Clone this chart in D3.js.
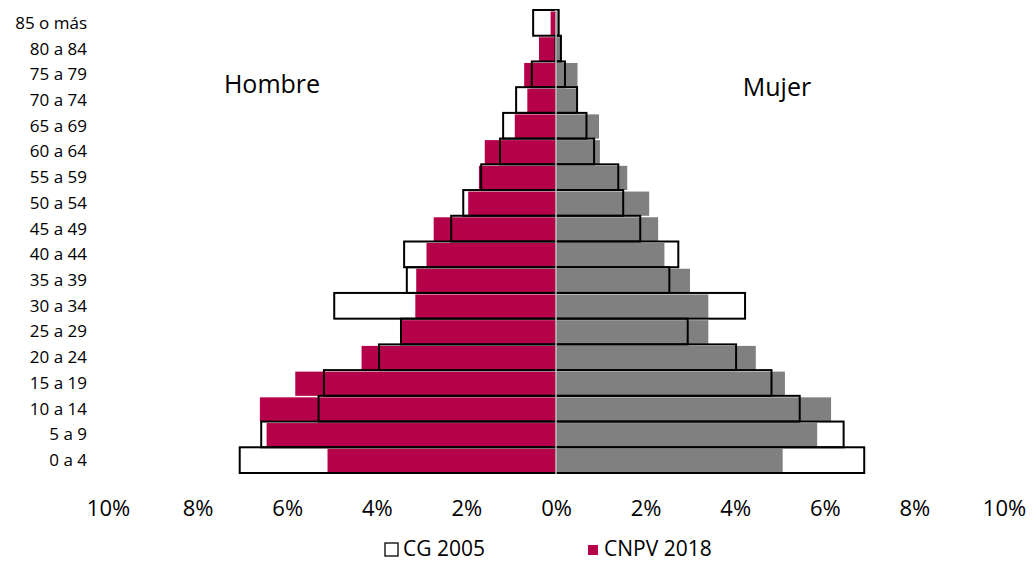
<!DOCTYPE html>
<html><head><meta charset="utf-8">
<script src="https://cdn.jsdelivr.net/npm/d3@7"></script>
<style>body{margin:0;background:#fff}svg{display:block}text{font-family:"Open Sans",sans-serif;fill:#000}</style>
</head><body><svg id="c" width="1034" height="562"></svg>
<script>
const categories = ["0 a 4","5 a 9","10 a 14","15 a 19","20 a 24","25 a 29","30 a 34","35 a 39","40 a 44","45 a 49","50 a 54","55 a 59","60 a 64","65 a 69","70 a 74","75 a 79","80 a 84","85 o más"];
const cg2005Hombre = [7.06,6.58,5.30,5.18,3.95,3.46,4.95,3.33,3.39,2.34,2.07,1.67,1.25,1.18,0.89,0.54,0.01,0.51];
const cg2005Mujer  = [6.88,6.42,5.44,4.81,4.02,2.94,4.22,2.53,2.73,1.88,1.50,1.39,0.85,0.68,0.47,0.20,0.11,0.06];
const cnpv2018Hombre = [5.10,6.46,6.61,5.82,4.34,3.44,3.14,3.12,2.89,2.73,1.96,1.72,1.59,0.92,0.64,0.71,0.38,0.12];
const cnpv2018Mujer  = [5.06,5.83,6.14,5.11,4.46,3.40,3.40,2.99,2.42,2.28,2.08,1.59,0.98,0.96,0.46,0.48,0.13,0.04];
const tickValues = [-10,-8,-6,-4,-2,0,2,4,6,8,10];
const seriesNames = ["CG 2005","CNPV 2018"];

const svg = d3.select("#c");
const x = d3.scaleLinear().domain([-10,10]).range([108,1004]);
const y = d3.scaleBand().domain(categories.slice().reverse()).range([10,473]).padding(0);
const rows = categories.map((c,i)=>({c, cgH:cg2005Hombre[i], cgM:cg2005Mujer[i], nH:cnpv2018Hombre[i], nM:cnpv2018Mujer[i]}));

// CNPV 2018 filled bars
svg.append("g").selectAll("rect").data(rows).join("rect")
  .attr("x", d=>x(-d.nH)).attr("y", d=>y(d.c)+1.5)
  .attr("width", d=>x(0)-x(-d.nH)).attr("height", y.bandwidth()-1.5)
  .attr("fill","#b5004a");
svg.append("g").selectAll("rect").data(rows).join("rect")
  .attr("x", x(0)).attr("y", d=>y(d.c)+1.5)
  .attr("width", d=>x(d.nM)-x(0)).attr("height", y.bandwidth()-1.5)
  .attr("fill","#808080");

// CG 2005 outline bars
svg.append("g").selectAll("rect").data(rows).join("rect")
  .attr("x", d=>x(-d.cgH)).attr("y", d=>y(d.c))
  .attr("width", d=>x(d.cgM)-x(-d.cgH)).attr("height", y.bandwidth())
  .attr("fill","none").attr("stroke","#000").attr("stroke-width",2);

// center line
svg.append("line").attr("x1",x(0)).attr("x2",x(0)).attr("y1",10).attr("y2",474)
  .attr("stroke","#c0c0c0").attr("stroke-width",1.5);

// category labels
svg.append("g").selectAll("text").data(categories).join("text")
  .attr("x",87).attr("y",d=>y(d)+y.bandwidth()/2).attr("dy","0.35em")
  .attr("text-anchor","end").style("font-size","17px").text(d=>d);

// x axis
const ax = svg.append("g").attr("transform","translate(0,497)")
  .call(d3.axisBottom(x).tickValues(tickValues).tickSize(0).tickFormat(d=>Math.abs(d)+"%"));
ax.select(".domain").remove();
ax.selectAll("text").style("font-size","22px").style("font-family","Open Sans, sans-serif").attr("fill","#000");

// side labels
svg.append("text").attr("x",272).attr("y",93).attr("text-anchor","middle").style("font-size","25px").text("Hombre");
svg.append("text").attr("x",777).attr("y",96).attr("text-anchor","middle").style("font-size","25px").text("Mujer");

// legend
const lg = svg.append("g");
lg.append("rect").attr("x",385).attr("y",543).attr("width",13).attr("height",13).attr("fill","#fff").attr("stroke","#000").attr("stroke-width",1.3);
lg.append("text").attr("x",403).attr("y",556).style("font-size","21px").text(seriesNames[0]);
lg.append("rect").attr("x",588).attr("y",545).attr("width",10).attr("height",10).attr("fill","#b5004a");
lg.append("text").attr("x",604).attr("y",556).style("font-size","21px").text(seriesNames[1]);
</script></body></html>
